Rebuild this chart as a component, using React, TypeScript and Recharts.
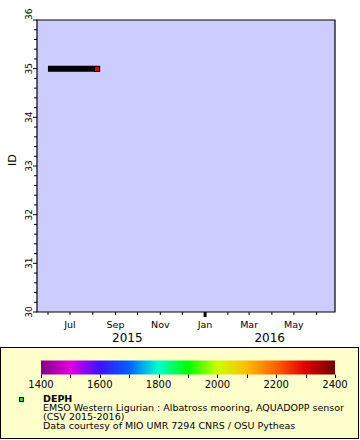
import React from 'react'
import { ComposedChart, Line, Scatter, XAxis, YAxis, ReferenceArea } from 'recharts'

const FONT = '"DejaVu Sans", Verdana, sans-serif'

// time axis
const timeDomain = ['2015-05-17', '2016-06-26']
const monthTicks = [
  '2015-06-01', '2015-07-01', '2015-08-01', '2015-09-01', '2015-10-01', '2015-11-01', '2015-12-01',
  '2016-01-01', '2016-02-01', '2016-03-01', '2016-04-01', '2016-05-01', '2016-06-01',
]
const monthLabels = ['', 'Jul', '', 'Sep', '', 'Nov', '', 'Jan', '', 'Mar', '', 'May', '']
const yearTicks = ['2015-09-17', '2016-03-29']
const yearLabels = ['2015', '2016']

// ID axis
const idDomain = [30, 36]

// mooring track (ID 35) and its last DEPH sample
const trackTimes = ['2015-06-05', '2015-08-07']
const trackIds = [35, 35]
const lastDepth = 2300

// colour bar
const depthTicks = [1400, 1500, 1600, 1700, 1800, 1900, 2000, 2100, 2200, 2300, 2400]
const depthLabels = [1400, 1600, 1800, 2000, 2200, 2400]
const paletteStops = ['#800080', '#e000e0', '#4010ff', '#0060ff', '#00ffcc', '#00ff00', '#ccff00', '#ffbb00', '#ff6000', '#dd0000', '#700000']

const ts = (d: string) => new Date(d + 'T00:00:00Z').getTime()

const hex = (c: string) => [1, 3, 5].map((i) => parseInt(c.slice(i, i + 2), 16))
const depthColor = (v: number) => {
  const f = Math.max(0, Math.min(1, (v - depthTicks[0]) / (depthTicks[depthTicks.length - 1] - depthTicks[0])))
  const p = f * (paletteStops.length - 1)
  const i = Math.min(paletteStops.length - 2, Math.floor(p))
  const a = hex(paletteStops[i])
  const b = hex(paletteStops[i + 1])
  const k = p - i
  return `rgb(${a.map((x, j) => Math.round(x + (b[j] - x) * k)).join(',')})`
}

const trackData = trackTimes.map((t, i) => ({ t: ts(t), id: trackIds[i] }))
const lastPoint = [{ t: ts(trackTimes[trackTimes.length - 1]), id: trackIds[trackIds.length - 1], depth: lastDepth }]

// minor ticks every 0.2
const minorIdTicks: number[] = []
for (let v = idDomain[0]; v <= idDomain[1] + 1e-9; v += 0.2) minorIdTicks.push(Math.round(v * 10) / 10)

const IdTick = (props: any) => {
  const { x, y, payload } = props
  const v = payload.value
  const major = Math.abs(v - Math.round(v)) < 1e-6
  const bx = x - 5
  return (
    <g>
      <line x1={x - (major ? 4 : 3)} x2={x} y1={y} y2={y} stroke="#000" />
      {major && (
        <text
          x={bx}
          y={y}
          transform={`rotate(-90, ${bx}, ${y})`}
          textAnchor={v === idDomain[1] ? 'start' : 'middle'}
          fontSize={9}
          fontFamily={FONT}
          fill="#000"
        >
          {v}
        </text>
      )}
    </g>
  )
}

const MonthTick = (props: any) => {
  const { x, y, index } = props
  const isYear = monthTicks[index]?.endsWith('-01-01')
  return (
    <g>
      <line x1={x} x2={x} y1={y} y2={y + (isYear ? 5 : 3)} stroke="#000" strokeWidth={isYear ? 3 : 1} />
      <text x={x} y={y + 16} textAnchor="middle" fontSize={9.5} fontFamily={FONT} fill="#000">
        {monthLabels[index]}
      </text>
    </g>
  )
}

const YearTick = (props: any) => {
  const { x, y, index } = props
  return (
    <text x={x} y={y + 12} textAnchor="middle" fontSize={12} fontFamily={FONT} fill="#000">
      {yearLabels[index]}
    </text>
  )
}

const SquareMarker = (props: any) => {
  const { cx, cy, payload } = props
  const x = Math.round(cx - 3)
  const y = Math.round(cy - 3)
  return (
    <g>
      <rect x={x} y={y} width={6} height={6} fill="#000" />
      <rect x={x + 1} y={y + 1} width={4} height={4} fill={depthColor(payload.depth)} />
    </g>
  )
}

const ColorLegend = () => {
  const x0 = 41
  const w = 294
  const pos = (v: number) => x0 + ((v - depthTicks[0]) / (depthTicks[depthTicks.length - 1] - depthTicks[0])) * w
  return (
    <svg width={360} height={95} style={{ position: 'absolute', left: 0, top: 345 }} fontFamily={FONT}>
      <defs>
        <linearGradient id="deph" x1="0" y1="0" x2="1" y2="0">
          {paletteStops.map((c, i) => (
            <stop key={i} offset={`${(i / (paletteStops.length - 1)) * 100}%`} stopColor={c} />
          ))}
        </linearGradient>
      </defs>
      <rect x={0.5} y={2.5} width={358} height={91} fill="#ffffcc" stroke="#000" />
      <rect x={x0} y={15.5} width={w} height={14} fill="url(#deph)" />
      {depthTicks.map((v) => (
        <line key={v} x1={Math.round(pos(v)) + 0.5} x2={Math.round(pos(v)) + 0.5} y1={29.5} y2={33} stroke="#000" />
      ))}
      {depthLabels.map((v) => (
        <text key={v} x={pos(v)} y={43} textAnchor="middle" fontSize={10} fill="#000">
          {v}
        </text>
      ))}
      <rect x={19.5} y={52.5} width={4} height={4} fill="#00ff00" stroke="#000" />
      <text x={43} y={57} fontSize={9.5} fontWeight="bold" fill="#000">DEPH</text>
      <text x={43} y={66} fontSize={9.5} fill="#000">EMSO Western Ligurian : Albatross mooring, AQUADOPP sensor</text>
      <text x={43} y={75} fontSize={9.5} fill="#000">(CSV 2015-2016)</text>
      <text x={43} y={84} fontSize={9.5} fill="#000">Data courtesy of MIO UMR 7294 CNRS / OSU Pytheas</text>
    </svg>
  )
}

export default function App() {
  const domain = [ts(timeDomain[0]), ts(timeDomain[1])]
  return (
    <div style={{ position: 'absolute', left: 0, top: 0, width: 360, height: 440, background: '#fff', fontFamily: FONT }}>
      <ComposedChart width={360} height={345} margin={{ top: 20, right: 25, bottom: 0, left: 0 }}>
        <XAxis
          dataKey="t"
          type="number"
          domain={domain}
          allowDataOverflow
          ticks={monthTicks.map(ts)}
          interval={0}
          tick={<MonthTick />}
          tickLine={false}
          axisLine={false}
          tickSize={0}
          tickMargin={0}
          height={18}
        />
        <XAxis
          xAxisId="year"
          dataKey="t"
          type="number"
          domain={domain}
          allowDataOverflow
          ticks={yearTicks.map(ts)}
          interval={0}
          tick={<YearTick />}
          tickLine={false}
          axisLine={false}
          tickSize={0}
          tickMargin={0}
          height={15}
        />
        <YAxis
          dataKey="id"
          type="number"
          domain={idDomain}
          allowDataOverflow
          ticks={minorIdTicks}
          interval={0}
          tick={<IdTick />}
          tickLine={false}
          axisLine={false}
          tickSize={0}
          tickMargin={0}
          width={37}
          label={{ value: 'ID', angle: -90, position: 'insideLeft', offset: 12, fontSize: 11, fill: '#000', fontFamily: FONT }}
        />
        <ReferenceArea x1={domain[0]} x2={domain[1]} y1={idDomain[0]} y2={idDomain[1]} fill="#ccccff" fillOpacity={1} stroke="#000" strokeWidth={1.2} />
        <Line
          data={trackData}
          dataKey="id"
          stroke="#000"
          strokeWidth={6}
          strokeLinecap="square"
          dot={false}
          activeDot={false}
          isAnimationActive={false}
        />
        <Scatter data={lastPoint} dataKey="id" shape={<SquareMarker />} isAnimationActive={false} />
      </ComposedChart>
      <ColorLegend />
    </div>
  )
}
